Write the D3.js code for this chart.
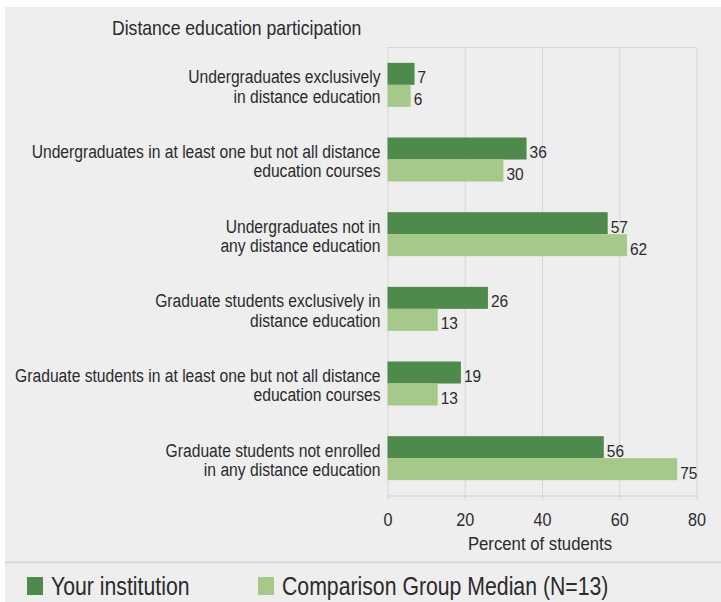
<!DOCTYPE html>
<html>
<head>
<meta charset="utf-8">
<script src="https://cdn.jsdelivr.net/npm/d3@7"></script>
<style>
  html, body { margin: 0; padding: 0; background: #ffffff; }
  svg { display: block; font-family: "Liberation Sans", Arial, sans-serif; }
</style>
</head>
<body>
<svg id="chart" width="721" height="602"></svg>
<script>
// ---- data ----
const categories = [
  "Undergraduates exclusively|in distance education",
  "Undergraduates in at least one but not all distance|education courses",
  "Undergraduates not in|any distance education",
  "Graduate students exclusively in|distance education",
  "Graduate students in at least one but not all distance|education courses",
  "Graduate students not enrolled|in any distance education"
];
const seriesNames = ["Your institution", "Comparison Group Median (N=13)"];
const yourInstitution = [7, 36, 57, 26, 19, 56];
const comparisonMedian = [6, 30, 62, 13, 13, 75];
const xTicks = [0, 20, 40, 60, 80];
const chartTitle = "Distance education participation";
const xAxisTitle = "Percent of students";

// ---- layout ----
const W = 721, H = 602;
const plotLeft = 387.5, plotRight = 696.5, plotTop = 47.5, plotBottom = 495.5;
const colors = ["#4d8a4b", "#a6c98a"];
const textColor = "#2b2b2b";

const svg = d3.select("#chart");
svg.append("rect").attr("width", W).attr("height", H).attr("fill", "#ffffff");
svg.append("rect").attr("x", 5).attr("y", 7).attr("width", W - 5).attr("height", H - 7).attr("fill", "#eeeeee");

const x = d3.scaleLinear().domain([0, 80]).range([plotLeft, plotRight]);
const y = d3.scaleBand().domain(categories).range([plotTop, plotBottom]).paddingInner(0.411).paddingOuter(0.2055);
const sub = d3.scaleBand().domain(seriesNames).range([0, y.bandwidth()]);

// helper: condensed text (horizontal scale)
function ctext(parent, tx, ty, size, sx, anchor) {
  return parent.append("text")
    .attr("transform", `translate(${tx},${ty}) scale(${sx},1)`)
    .attr("text-anchor", anchor || "start")
    .attr("font-size", size + "px")
    .attr("fill", textColor);
}

// plot frame top line
svg.append("line").attr("x1", plotLeft).attr("x2", plotRight).attr("y1", plotTop).attr("y2", plotTop)
  .attr("stroke", "#d6d6d6").attr("stroke-width", 1);

// gridlines
const grid = svg.append("g").attr("transform", `translate(0,${plotBottom})`)
  .call(d3.axisBottom(x).tickValues(xTicks).tickSize(-(plotBottom - plotTop)).tickFormat(""));
grid.select(".domain").remove();
grid.selectAll("line").attr("stroke", "#d6d6d6").attr("stroke-width", 1);

// x axis
const xAxis = svg.append("g").attr("transform", `translate(0,${plotBottom})`)
  .call(d3.axisBottom(x).tickValues(xTicks).tickSize(4).tickSizeOuter(0));
xAxis.select(".domain").attr("stroke", "#cfcfcf");
xAxis.selectAll(".tick line").attr("stroke", "#cfcfcf");
xAxis.selectAll(".tick text")
  .attr("y", 30.5).attr("dy", 0)
  .attr("transform", "scale(0.9,1)")
  .attr("font-size", "18px").attr("fill", textColor)
  .attr("font-family", "Liberation Sans, Arial, sans-serif");

// bars
const series = [yourInstitution, comparisonMedian];
series.forEach((vals, si) => {
  const g = svg.append("g");
  g.selectAll("rect").data(vals).join("rect")
    .attr("x", x(0))
    .attr("y", (d, i) => y(categories[i]) + sub(seriesNames[si]))
    .attr("width", d => x(d) - x(0))
    .attr("height", sub.bandwidth())
    .attr("fill", colors[si]);
  vals.forEach((d, i) => {
    ctext(g, x(d) + 3, y(categories[i]) + sub(seriesNames[si]) + sub.bandwidth() / 2 + 9.5, 17, 0.91).text(d);
  });
});

// category labels
const labels = svg.append("g");
categories.forEach(c => {
  const lines = c.split("|");
  const cy = y(c) + y.bandwidth() / 2;
  const t = ctext(labels, 380.5, 0, 18, 0.87, "end");
  lines.forEach((ln, k) => {
    t.append("tspan").attr("x", 0).attr("y", cy - 1.5 + k * 19.5).text(ln);
  });
});

// title
ctext(svg, 112, 35, 20, 0.88).text(chartTitle);

// axis title
ctext(svg, 540, 550, 18, 0.93, "middle").text(xAxisTitle);

// separator
svg.append("line").attr("x1", 5).attr("x2", W).attr("y1", 562.5).attr("y2", 562.5)
  .attr("stroke", "#d2d2d2").attr("stroke-width", 1.5);

// legend
const legendX = [27, 258];
seriesNames.forEach((name, i) => {
  svg.append("rect").attr("x", legendX[i]).attr("y", 577).attr("width", 16).attr("height", 18).attr("fill", colors[i]);
  ctext(svg, legendX[i] + 24, 595, 25, 0.85).text(name);
});
</script>
</body>
</html>
